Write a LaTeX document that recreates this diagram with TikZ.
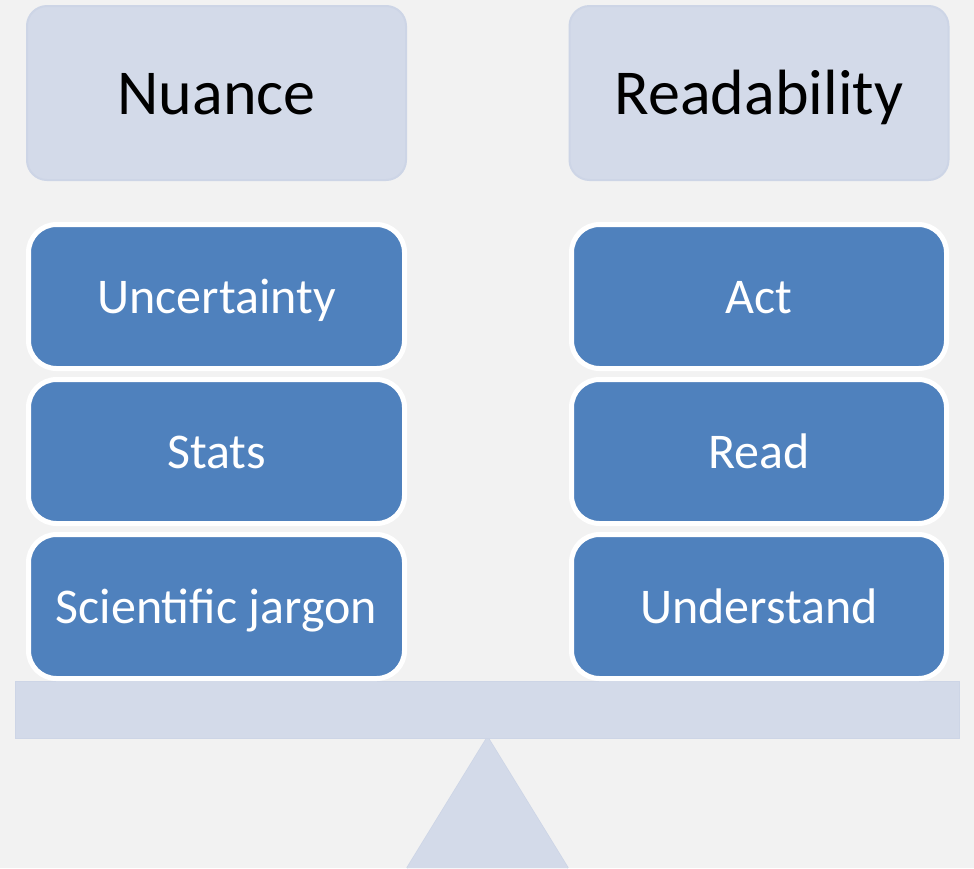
\documentclass[tikz,border=0pt]{standalone}
\usepackage{fontspec}
\setmainfont{Carlito}
\definecolor{bgc}{HTML}{F2F2F2}
\definecolor{lightc}{HTML}{D3DAE9}
\definecolor{lightb}{HTML}{CDD5E6}
\definecolor{bluec}{HTML}{4F81BD}
\begin{document}
\begin{tikzpicture}[x=1pt,y=-1pt,
  headbox/.style={draw=lightb,line width=2pt,fill=lightc,rounded corners=20pt,
    minimum width=379pt,minimum height=174pt,inner sep=0pt,
    text height=57pt,text depth=14pt,
    font=\fontsize{64}{72}\selectfont,text=black},
  itembox/.style={draw=white,line width=5pt,fill=bluec,rounded corners=28pt,
    minimum width=376pt,minimum height=144pt,inner sep=0pt,
    text height=46pt,text depth=12pt,
    font=\fontsize{50}{58}\selectfont,text=white},
  plate/.style={draw=lightb,line width=1.5pt,fill=lightc}]
\fill[bgc] (0,0) rectangle (974,868);
\useasboundingbox (0,0) rectangle (974,868);
% fulcrum and beam
\coordinate (apex) at (487.5,737);
\coordinate (bl) at (407,868);
\coordinate (br) at (568,868);
\draw[plate] (bl) -- (apex) -- (br);
\fill[lightc] (bl) -- (apex) -- (br) -- cycle;
\node[plate,minimum width=944pt,minimum height=57pt,inner sep=0pt] (beam) at (487.5,710) {};
% headers
\node[headbox] (nuance) at (216.5,93) {Nuance};
\node[headbox] (read) at (759,93) {Readability};
% left column
\node[itembox] (unc) at (216.5,296.5) {Uncertainty};
\node[itembox] (stats) at (216.5,451.5) {Stats};
\node[itembox] (jarg) at (216.5,606.5) {Scientific jargon};
% right column
\node[itembox,minimum width=375pt] (act) at (759,296.5) {Act};
\node[itembox,minimum width=375pt] (rd) at (759,451.5) {Read};
\node[itembox,minimum width=375pt] (und) at (759,606.5) {Understand};
\end{tikzpicture}
\end{document}
